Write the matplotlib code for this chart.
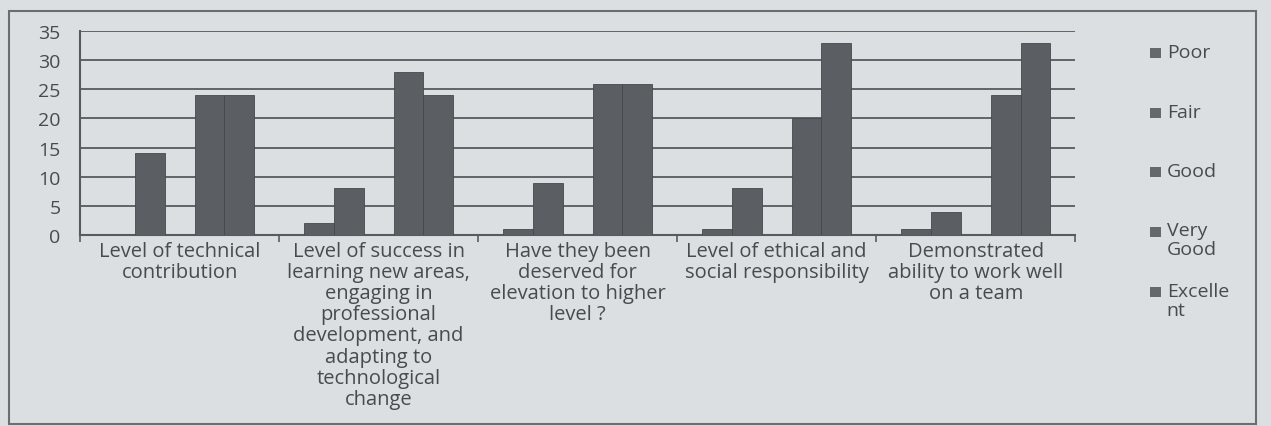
import matplotlib
matplotlib.use("Agg")
import matplotlib.pyplot as plt
import numpy as np
from matplotlib.patches import Rectangle

categories = [
    "Level of technical\ncontribution",
    "Level of success in\nlearning new areas,\nengaging in\nprofessional\ndevelopment, and\nadapting to\ntechnological\nchange",
    "Have they been\ndeserved for\nelevation to higher\nlevel ?",
    "Level of ethical and\nsocial responsibility",
    "Demonstrated\nability to work well\non a team",
]
series_names = ["Poor", "Fair", "Good", "Very Good", "Excellent"]
legend_labels = ["Poor", "Fair", "Good", "Very\nGood", "Excelle\nnt"]
poor = [0, 2, 1, 1, 1]
fair = [14, 8, 9, 8, 4]
good = [0, 0, 0, 0, 0]
very_good = [24, 28, 26, 20, 24]
excellent = [24, 24, 26, 33, 33]
values = [poor, fair, good, very_good, excellent]
y_ticks = [0, 5, 10, 15, 20, 25, 30, 35]

bg = "#dcdfe2"
bar_color = "#5b5f64"
text_color = "#474b50"
line_color = "#575b60"

plt.rcParams["font.family"] = ["Open Sans", "DejaVu Sans"]
plt.rcParams["font.weight"] = "medium"

fig = plt.figure(figsize=(12.71, 4.27), dpi=100, facecolor=bg)
ax = fig.add_axes([0.063, 0.447, 0.783, 0.478])
ax.set_facecolor(bg)

n = len(categories)
x = np.arange(n)
w = 0.15
for i, vals in enumerate(values):
    ax.bar(x + (i - 2) * w, vals, width=w, color=bar_color, edgecolor="#45494e",
           linewidth=0.6, zorder=3, label=series_names[i])

ax.set_xlim(-0.5, n - 0.5)
ax.set_ylim(0, 35)
ax.set_yticks(y_ticks)
ax.yaxis.grid(True, color=line_color, linewidth=1.3, zorder=0)
ax.set_axisbelow(True)
ax.tick_params(axis="y", length=0, labelsize=14, labelcolor=text_color, pad=14)
ax.set_xticks(x)
ax.set_xticklabels(categories, fontsize=14.5, color=text_color, linespacing=1.08)
ax.tick_params(axis="x", length=0, pad=4)
ax.set_xticks(np.arange(n + 1) - 0.5, minor=True)
ax.tick_params(axis="x", which="minor", length=5, color=line_color, width=1.2)
for s in ["top", "right"]:
    ax.spines[s].set_visible(False)
for s in ["left", "bottom"]:
    ax.spines[s].set_color(line_color)
    ax.spines[s].set_linewidth(1.5)

# legend
ys = [0.875, 0.735, 0.597, 0.457, 0.315]
for lab, yy in zip(legend_labels, ys):
    fig.patches.append(Rectangle((0.9045, yy - 0.014), 0.009, 0.024, transform=fig.transFigure,
                                 facecolor="#65696e", edgecolor="none"))
    fig.text(0.918, yy + 0.022, lab, fontsize=14, color=text_color, va="top", ha="left",
             linespacing=1.05)

# outer frame
fig.patches.append(Rectangle((0.007, 0.005), 0.981, 0.968, transform=fig.transFigure,
                             fill=False, edgecolor="#6a6e73", linewidth=1.5))

fig.savefig("out.png", dpi=100, facecolor=bg)
